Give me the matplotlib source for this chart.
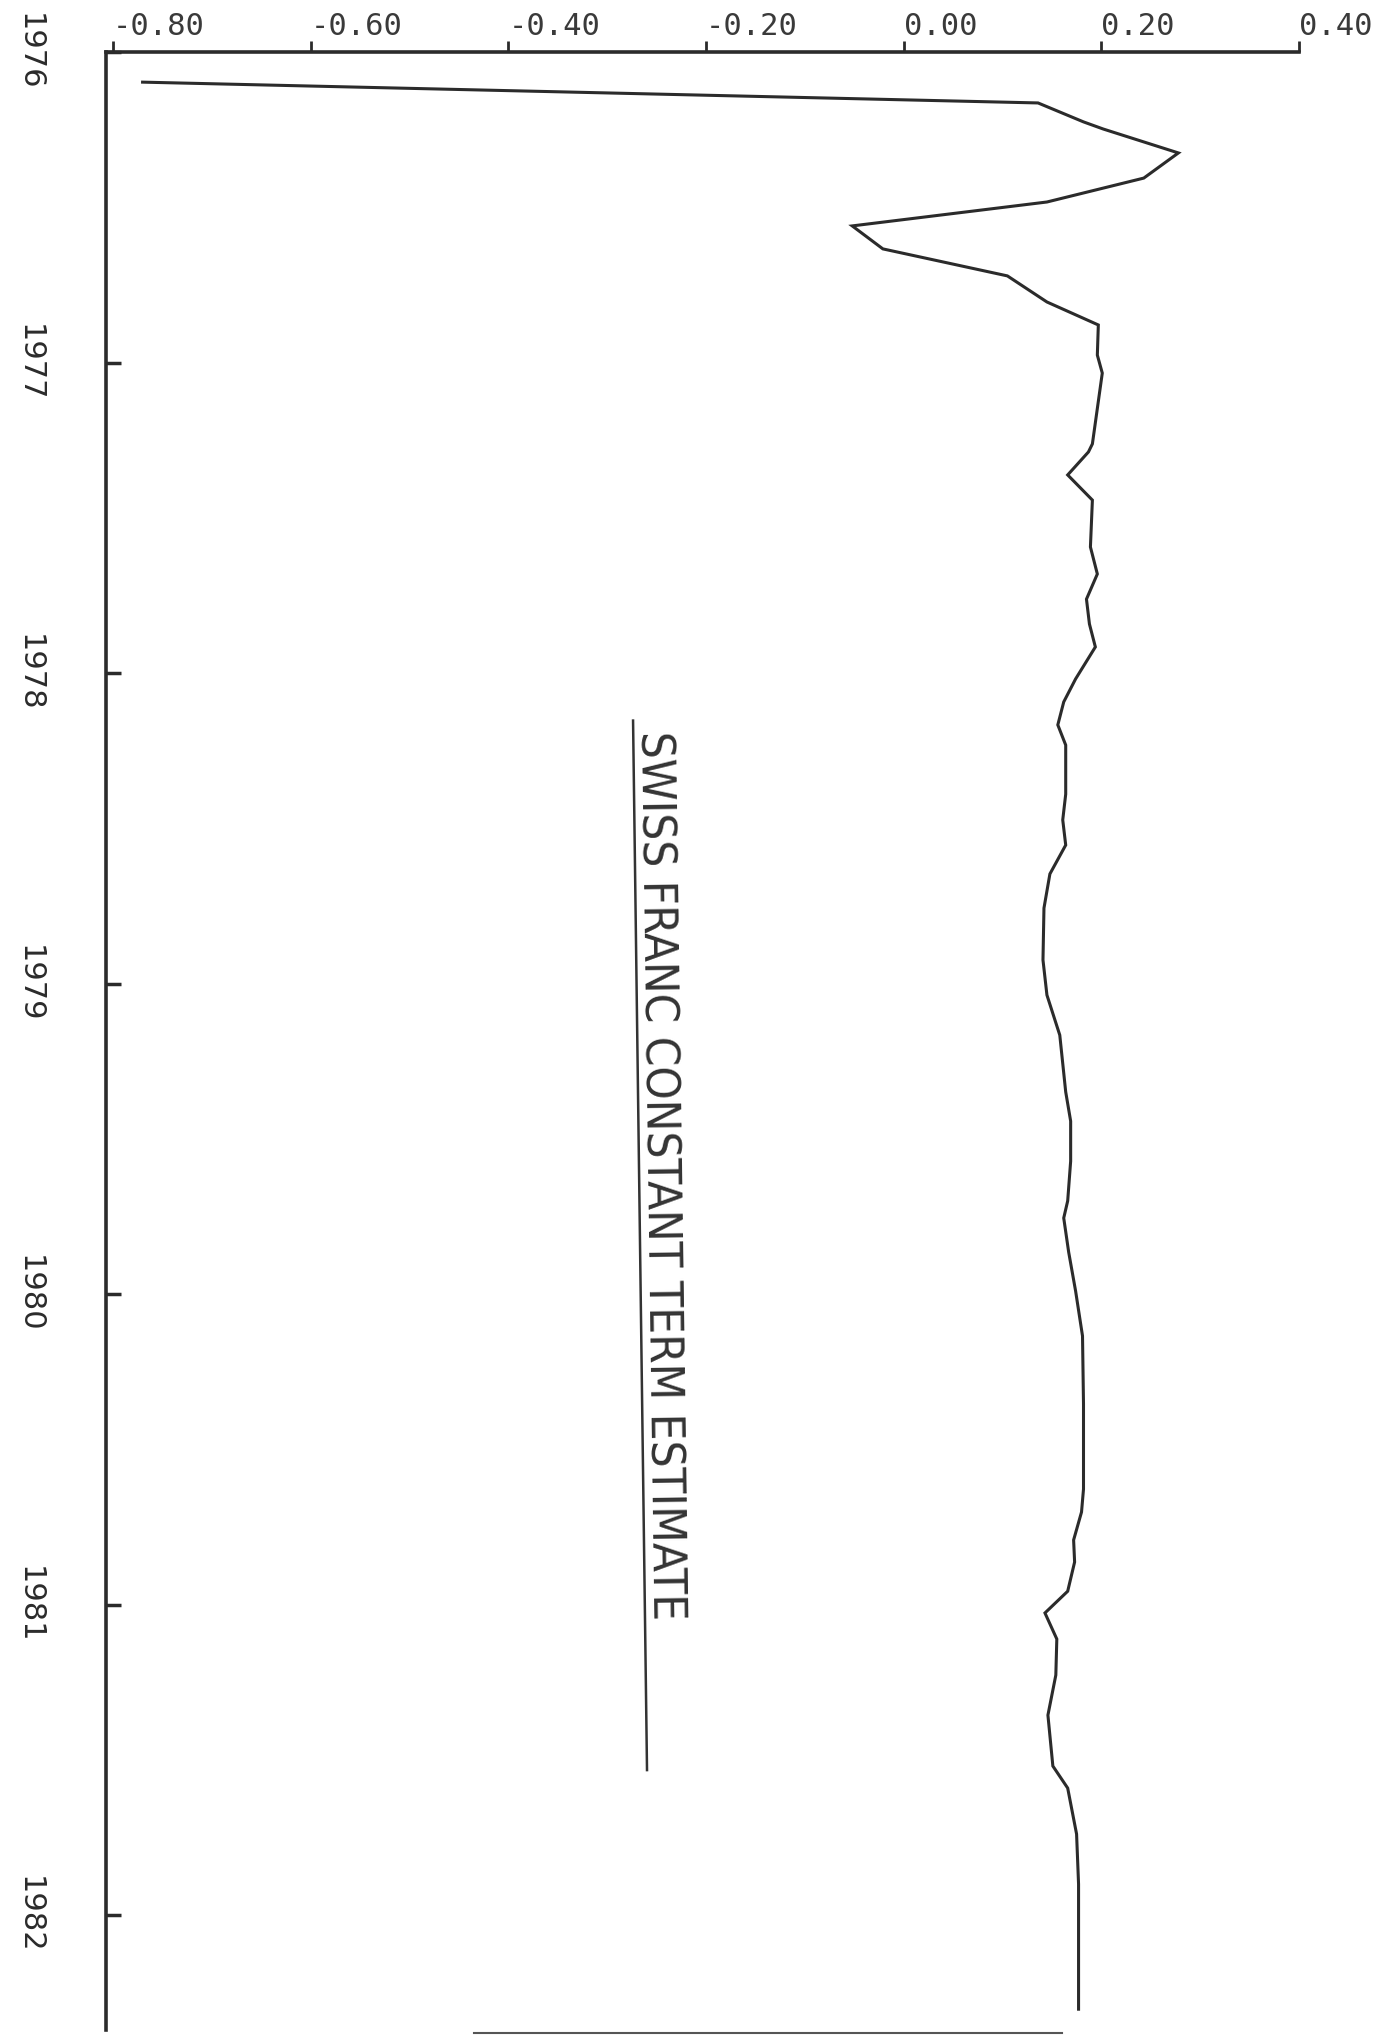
import matplotlib
matplotlib.use("Agg")
import matplotlib.pyplot as plt
from matplotlib.lines import Line2D

# constant term estimate (decimal years)
times = [1976.097, 1976.164, 1976.225, 1976.248, 1976.325, 1976.406, 1976.483,
         1976.560, 1976.634, 1976.721, 1976.805, 1976.879, 1976.976, 1977.034,
         1977.262, 1977.288, 1977.362, 1977.443, 1977.594, 1977.681, 1977.762,
         1977.842, 1977.916, 1978.019, 1978.093, 1978.167, 1978.232, 1978.390,
         1978.473, 1978.554, 1978.647, 1978.757, 1978.924, 1979.037, 1979.166,
         1979.349, 1979.443, 1979.572, 1979.700, 1979.755, 1979.865, 1979.990,
         1980.135, 1980.354, 1980.628, 1980.702, 1980.792, 1980.863, 1980.957,
         1981.027, 1981.111, 1981.227, 1981.356, 1981.520, 1981.591, 1981.739,
         1981.900, 1982.303]
estimate = [-0.770, 0.136, 0.182, 0.202, 0.278, 0.243, 0.145,
            -0.052, -0.021, 0.105, 0.145, 0.197, 0.196, 0.201,
            0.191, 0.187, 0.166, 0.191, 0.189, 0.196, 0.185,
            0.188, 0.194, 0.174, 0.162, 0.156, 0.164, 0.164,
            0.161, 0.164, 0.148, 0.142, 0.141, 0.145, 0.158,
            0.164, 0.169, 0.169, 0.166, 0.162, 0.167, 0.174,
            0.181, 0.182, 0.182, 0.180, 0.172, 0.173, 0.166,
            0.143, 0.155, 0.154, 0.146, 0.151, 0.166, 0.175,
            0.177, 0.177]

x_ticks = [-0.80, -0.60, -0.40, -0.20, 0.00, 0.20, 0.40]
x_labels = ['-0.80', '-0.60', '-0.40', '-0.20', '0.00', '0.20', '0.40']
years = [1976, 1977, 1978, 1979, 1980, 1981, 1982]
title = "SWISS FRANC CONSTANT TERM ESTIMATE"

ink = '#2b2b2b'

fig = plt.figure(figsize=(13.75, 20.36), dpi=100)
ax = fig.add_axes([0.0771, 0.00295, 0.8676, 0.9715])

ax.plot(estimate, times, color=ink, lw=2.2, solid_joinstyle='miter')

ax.set_xlim(-0.807, 0.40)
ax.set_ylim(1982.37, 1976.0)

ax.xaxis.tick_top()
ax.set_xticks(x_ticks)
ax.set_xticklabels(x_labels, family='DejaVu Sans Mono', fontsize=22,
                   color='#3a3a3a', ha='left')
ax.tick_params(axis='x', direction='out', length=8, width=2, pad=0, color=ink)

ax.set_yticks(years)
ax.set_yticklabels([str(y) for y in years], family='DejaVu Sans', fontsize=22,
                   rotation=270, va='center', color=ink)
ax.tick_params(axis='y', direction='in', length=11, width=2.5, pad=45, color=ink)

for side in ['right', 'bottom']:
    ax.spines[side].set_visible(False)
for side in ['top', 'left']:
    ax.spines[side].set_linewidth(2.6)
    ax.spines[side].set_color(ink)

# hand-lettered title, slightly slanted like its underline
ax.text(0.4635, 0.432, title, transform=ax.transAxes, rotation=270.8,
        ha='center', va='center', family='DejaVu Sans', fontstretch='condensed',
        fontsize=34, color='#333333')
ax.add_line(Line2D([0.4418, 0.4535], [0.662, 0.1314], transform=ax.transAxes,
                   color='#333333', lw=1.8))

# short edge stroke at the bottom of the sheet
fig.add_artist(Line2D([0.345, 0.772], [0.0015, 0.0015], color='#555555', lw=1.5))

fig.savefig('out.png', dpi=100, facecolor='white')
